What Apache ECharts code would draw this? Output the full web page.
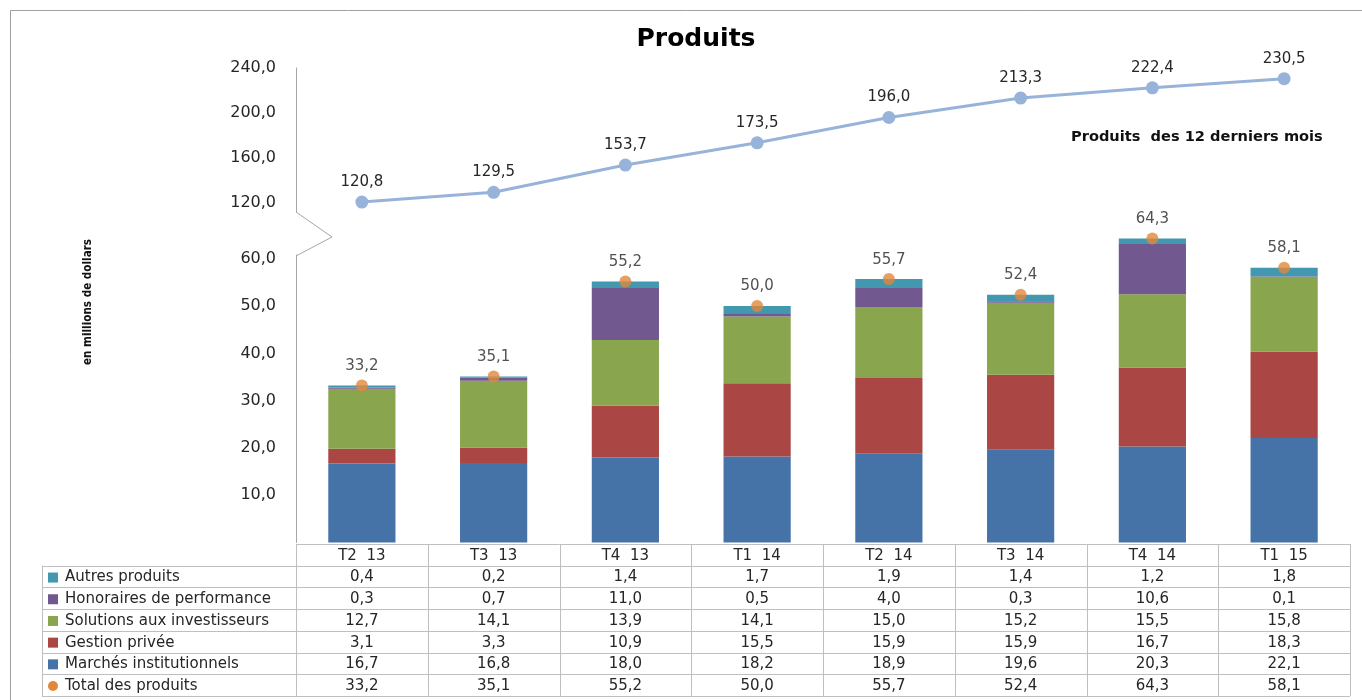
<!DOCTYPE html>
<html><head><meta charset="utf-8">
<script src="https://cdn.jsdelivr.net/npm/echarts@6/dist/echarts.min.js"></script>
<style>html,body{margin:0;padding:0;background:#fff}#c{width:1362px;height:700px}</style>
</head><body><div id="c"></div>
<script>
// ---- data ----
const categories = ['T2  13','T3  13','T4  13','T1  14','T2  14','T3  14','T4  14','T1  15'];
const marches    = [16.7, 16.8, 18.0, 18.2, 18.9, 19.6, 20.3, 22.1];
const gestion    = [3.1, 3.3, 10.9, 15.5, 15.9, 15.9, 16.7, 18.3];
const solutions  = [12.7, 14.1, 13.9, 14.1, 15.0, 15.2, 15.5, 15.8];
const honoraires = [0.3, 0.7, 11.0, 0.5, 4.0, 0.3, 10.6, 0.1];
const autres     = [0.4, 0.2, 1.4, 1.7, 1.9, 1.4, 1.2, 1.8];
const totals     = [33.2, 35.1, 55.2, 50.0, 55.7, 52.4, 64.3, 58.1];
const ltm        = [120.8, 129.5, 153.7, 173.5, 196.0, 213.3, 222.4, 230.5];
const upperTicks = [120, 160, 200, 240];
const lowerTicks = [10, 20, 30, 40, 50, 60];
const seriesNames = ['Autres produits','Honoraires de performance','Solutions aux investisseurs','Gestion privée','Marchés institutionnels','Total des produits'];
const titleText = 'Produits';
const ltmTitle = 'Produits  des 12 derniers mois';
const yAxisName = 'en millions de dollars';

// ---- style ----
const FONT = 'DejaVu Sans';
const C = {
  marches: '#4572A7', gestion: '#AA4643', solutions: '#89A54E',
  honoraires: '#71588F', autres: '#4198AF', total: '#E0883B', line: '#98B3DA'
};
const AXIS = '#a6a6a6', GRIDC = '#bfbfbf', TXT = '#262626';
const fmt = v => v.toFixed(1).replace('.', ',');

// layout
const PLOT_L = 296, PLOT_R = 1350;
const COL_W = (PLOT_R - PLOT_L) / categories.length;
const TAB_TOP = 544, ROW_H = 21.7, TAB_LEFT = 42;

const chart = echarts.init(document.getElementById('c'), null, {renderer: 'canvas'});

// ---- decorations + table built from arrays ----
const g = [];
g.push({type:'rect', shape:{x:10.5, y:10.5, width:1400, height:700}, style:{fill:'none', stroke:'#a0a0a0', lineWidth:1}, silent:true});
g.push({type:'polyline', shape:{points:[[PLOT_L,212],[332,237],[PLOT_L,256]]}, style:{fill:'none', stroke:AXIS, lineWidth:1}});
g.push({type:'text', x:88, y:302, rotation:Math.PI/2, style:{text:yAxisName, font:'bold 11.6px "DejaVu Sans Condensed"', fill:'#111', align:'center', verticalAlign:'middle'}});
g.push({type:'text', x:1071, y:137, style:{text:ltmTitle, font:'bold 14.6px "DejaVu Sans"', fill:'#111', align:'left', verticalAlign:'middle'}});

const rows = [autres, honoraires, solutions, gestion, marches, totals];
const rowColors = [C.autres, C.honoraires, C.solutions, C.gestion, C.marches, C.total];
const nRows = rows.length;
const tabBottom = TAB_TOP + ROW_H * (nRows + 1);
g.push({type:'line', shape:{x1:PLOT_L, y1:TAB_TOP+0.5, x2:PLOT_R, y2:TAB_TOP+0.5}, style:{stroke:GRIDC, lineWidth:1}});
for (let r = 1; r <= nRows + 1; r++) {
  const y = Math.round(TAB_TOP + r * ROW_H) + 0.5;
  g.push({type:'line', shape:{x1:TAB_LEFT, y1:y, x2:PLOT_R, y2:y}, style:{stroke:GRIDC, lineWidth:1}});
}
g.push({type:'line', shape:{x1:TAB_LEFT+0.5, y1:TAB_TOP+ROW_H, x2:TAB_LEFT+0.5, y2:tabBottom}, style:{stroke:GRIDC, lineWidth:1}});
for (let c = 0; c <= categories.length; c++) {
  const x = Math.round(PLOT_L + c * COL_W) + 0.5;
  g.push({type:'line', shape:{x1:x, y1:TAB_TOP, x2:x, y2:tabBottom}, style:{stroke:GRIDC, lineWidth:1}});
}
categories.forEach((cat, i) => {
  g.push({type:'text', x:PLOT_L + (i+0.5)*COL_W, y:TAB_TOP + ROW_H/2 + 1, style:{text:cat, font:'15px "DejaVu Sans"', fill:TXT, align:'center', verticalAlign:'middle'}});
});
rows.forEach((arr, r) => {
  const cy = TAB_TOP + (r + 1.5) * ROW_H + 1;
  if (r === nRows - 1) {
    g.push({type:'circle', shape:{cx:53, cy:cy, r:5}, style:{fill:rowColors[r]}});
  } else {
    g.push({type:'rect', shape:{x:48, y:cy-5, width:10, height:10}, style:{fill:rowColors[r]}});
  }
  g.push({type:'text', x:65, y:cy, style:{text:seriesNames[r], font:'15px "DejaVu Sans"', fill:TXT, align:'left', verticalAlign:'middle'}});
  arr.forEach((v, i) => {
    g.push({type:'text', x:PLOT_L + (i+0.5)*COL_W, y:cy, style:{text:fmt(v), font:'15px "DejaVu Sans"', fill:TXT, align:'center', verticalAlign:'middle'}});
  });
});

const labelStyle = {fontFamily: FONT, fontSize: 15, color: TXT};

const barSeries = (name, data, color) => ({
  name, type:'bar', stack:'p', xAxisIndex:1, yAxisIndex:1, data, barWidth:'51%',
  clip:false, itemStyle:{color}, emphasis:{disabled:true}
});

chart.setOption({
  animation:false,
  backgroundColor:'#fff',
  title:{text:titleText, left:691, textAlign:'center', top:22,
    textStyle:{fontFamily:FONT, fontSize:25, fontWeight:'bold', color:'#000'}},
  grid:[
    {left:PLOT_L, right:1362-PLOT_R, top:68, height:144},
    {left:PLOT_L, right:1362-PLOT_R, top:255, height:287.5}
  ],
  xAxis:[
    {gridIndex:0, type:'category', data:categories, show:false},
    {gridIndex:1, type:'category', data:categories, show:false}
  ],
  yAxis:[
    {gridIndex:0, type:'value', min:112, max:240,
      axisLine:{show:true, lineStyle:{color:AXIS}}, axisTick:{show:false}, splitLine:{show:false},
      axisLabel:{customValues:upperTicks, formatter:v=>fmt(v), margin:20, fontFamily:FONT, fontSize:16, color:TXT}},
    {gridIndex:1, type:'value', min:0, max:60.8,
      axisLine:{show:true, lineStyle:{color:AXIS}}, axisTick:{show:false}, splitLine:{show:false},
      axisLabel:{customValues:lowerTicks, formatter:v=>fmt(v), margin:20, fontFamily:FONT, fontSize:16, color:TXT}}
  ],
  series:[
    {name:'Produits des 12 derniers mois', type:'line', xAxisIndex:0, yAxisIndex:0, data:ltm,
      symbol:'circle', symbolSize:13, lineStyle:{color:C.line, width:3}, itemStyle:{color:C.line},
      label:{show:true, position:'top', distance:6, formatter:p=>fmt(p.value), ...labelStyle}},
    barSeries(seriesNames[4], marches, C.marches),
    barSeries(seriesNames[3], gestion, C.gestion),
    barSeries(seriesNames[2], solutions, C.solutions),
    barSeries(seriesNames[1], honoraires, C.honoraires),
    barSeries(seriesNames[0], autres, C.autres),
    {name:seriesNames[5], type:'scatter', xAxisIndex:1, yAxisIndex:1, data:totals, clip:false,
      symbol:'circle', symbolSize:12, itemStyle:{color:C.total}, z:5,
      label:{show:true, position:'top', distance:6, formatter:p=>fmt(p.value), ...labelStyle}}
  ],
  graphic:g
});
</script></body></html>
